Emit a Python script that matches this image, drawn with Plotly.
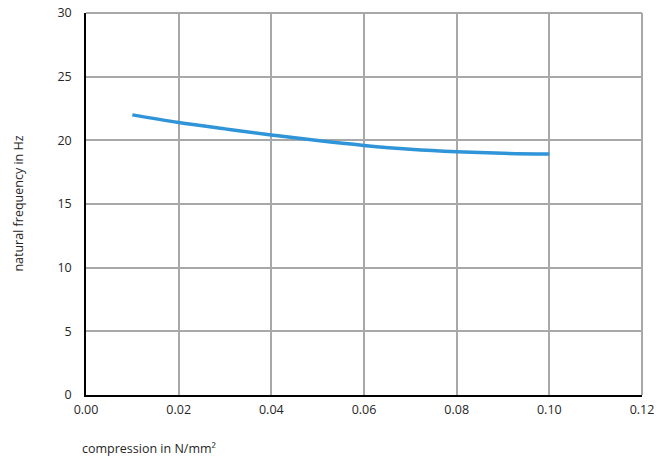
import plotly.graph_objects as go

compression = [0.01, 0.02, 0.03, 0.04, 0.05, 0.06, 0.07, 0.08, 0.09, 0.10]
frequency = [22.0, 21.4, 20.9, 20.42, 19.98, 19.6, 19.3, 19.1, 18.98, 18.93]

x_ticks = [0.00, 0.02, 0.04, 0.06, 0.08, 0.10, 0.12]
x_tick_labels = ["0.00", "0.02", "0.04", "0.06", "0.08", "0.10", "0.12"]
y_ticks = [0, 5, 10, 15, 20, 25, 30]

FONT = "Open Sans"
GRID = "#a8a8a8"
TXT = "#262626"

fig = go.Figure()
fig.add_trace(go.Scatter(
    x=compression, y=frequency, mode="lines",
    line=dict(color="#2f95d8", width=3.5, shape="spline"),
    hoverinfo="skip", showlegend=False,
))

fig.update_layout(
    width=672, height=459,
    margin=dict(l=86, r=30, t=13, b=64, autoexpand=False),
    paper_bgcolor="white", plot_bgcolor="white",
    font=dict(family=FONT, size=12.5, color=TXT),
    xaxis=dict(
        range=[0, 0.12], tickvals=x_ticks, ticktext=x_tick_labels,
        showgrid=True, gridcolor=GRID, gridwidth=2,
        showline=True, linecolor="black", linewidth=1.5,
        zeroline=False, ticks="", ticklen=0, fixedrange=True,
        automargin=False, ticklabelstandoff=2,
    ),
    yaxis=dict(
        range=[0, 30], tickvals=y_ticks,
        showgrid=True, gridcolor=GRID, gridwidth=2,
        showline=True, linecolor="black", linewidth=1.5,
        zeroline=False, ticks="", ticklen=0, fixedrange=True,
        ticklabelstandoff=10, automargin=False,
    ),
    shapes=[
        dict(type="line", xref="paper", yref="paper", x0=0, x1=1, y0=1, y1=1,
             line=dict(color=GRID, width=2), layer="below"),
        dict(type="line", xref="paper", yref="paper", x0=1, x1=1, y0=0, y1=1,
             line=dict(color=GRID, width=2), layer="below"),
    ],
    annotations=[
        dict(text="compression in N/mm²", xref="paper", yref="paper",
             x=-0.011, y=-0.139, xanchor="left", yanchor="middle",
             showarrow=False, font=dict(family=FONT, size=12.5, color=TXT)),
        dict(text="natural frequency in Hz", xref="paper", yref="paper",
             x=-0.123, y=0.5, xanchor="center", yanchor="middle", textangle=-90,
             showarrow=False, font=dict(family=FONT, size=12.5, color=TXT)),
    ],
)

fig.write_html("out.html")
